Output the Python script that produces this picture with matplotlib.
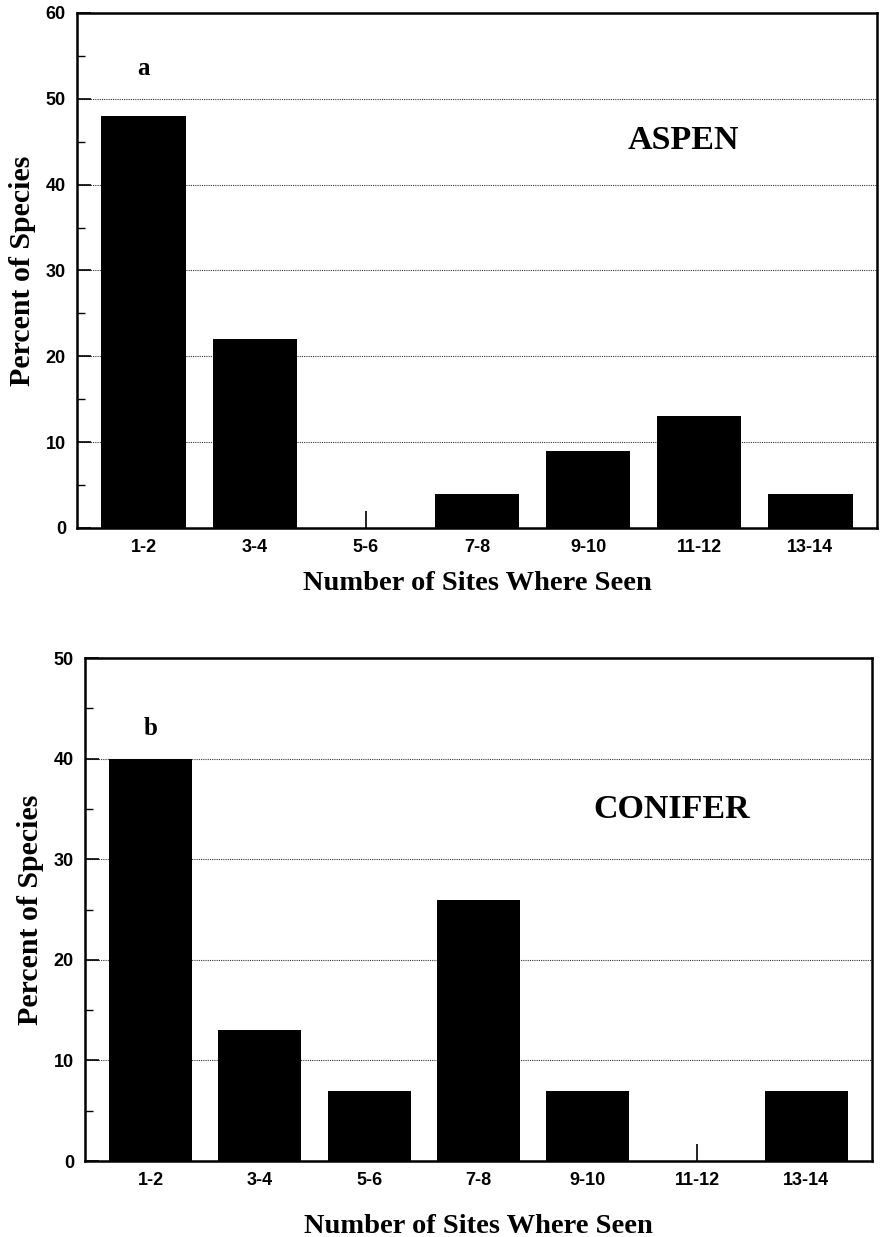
import numpy as np
import matplotlib
matplotlib.use('Agg')
import matplotlib.pyplot as plt
from matplotlib.ticker import MultipleLocator

# ==========================================
# Data
# ==========================================
categories = ['1-2', '3-4', '5-6', '7-8', '9-10', '11-12', '13-14']
aspen_pct = [48, 22, 0, 4, 9, 13, 4]
conifer_pct = [40, 13, 7, 26, 7, 0, 7]

serif = 'Liberation Serif'
sans = 'Liberation Sans'

fig = plt.figure(figsize=(8.81, 12.37), dpi=100)
ax1 = fig.add_axes([0.0874, 0.5732, 0.9081, 0.4163])
ax2 = fig.add_axes([0.0965, 0.0614, 0.8933, 0.4066])


def draw_panel(ax, values, ymax, letter, letter_y, name, name_xy):
    x = np.arange(len(categories))
    ax.bar(x, values, width=0.76, color='black', zorder=3)
    ax.set_xlim(-0.6, len(categories) - 0.4)
    ax.set_ylim(0, ymax)
    ax.set_xticks(x)
    ax.set_xticklabels(categories)
    ax.yaxis.set_major_locator(MultipleLocator(10))
    ax.yaxis.set_minor_locator(MultipleLocator(5))
    ax.tick_params(axis='both', which='major', direction='in', length=10, width=1.2, pad=8)
    ax.tick_params(axis='y', which='minor', direction='in', length=6, width=1.0)
    ax.tick_params(axis='x', length=12)
    for lab in ax.get_xticklabels() + ax.get_yticklabels():
        lab.set_fontfamily(sans)
        lab.set_fontweight('bold')
        lab.set_fontsize(13)
    ax.grid(axis='y', linestyle=(0, (1, 1)), linewidth=0.8, color='#333333', zorder=1)
    for sp in ax.spines.values():
        sp.set_linewidth(1.8)
    ax.set_xlabel('Number of Sites Where Seen', fontfamily=serif, fontweight='bold',
                  fontsize=20.5, labelpad=11)
    ax.set_ylabel('Percent of Species', fontfamily=serif, fontweight='bold',
                  fontsize=21.5, labelpad=7)
    ax.text(0, letter_y, letter, fontfamily=serif, fontweight='bold', fontsize=18,
            ha='center', va='center')
    ax.text(name_xy[0], name_xy[1], name, fontfamily=serif, fontweight='bold',
            fontsize=24.5, ha='center', va='center')


draw_panel(ax1, aspen_pct, 60, 'a', 53.5, 'ASPEN', (4.86, 45.1))
draw_panel(ax2, conifer_pct, 50, 'b', 43, 'CONIFER', (4.77, 34.9))
ax2.xaxis.labelpad = 18

fig.savefig('out.png', dpi=100)
